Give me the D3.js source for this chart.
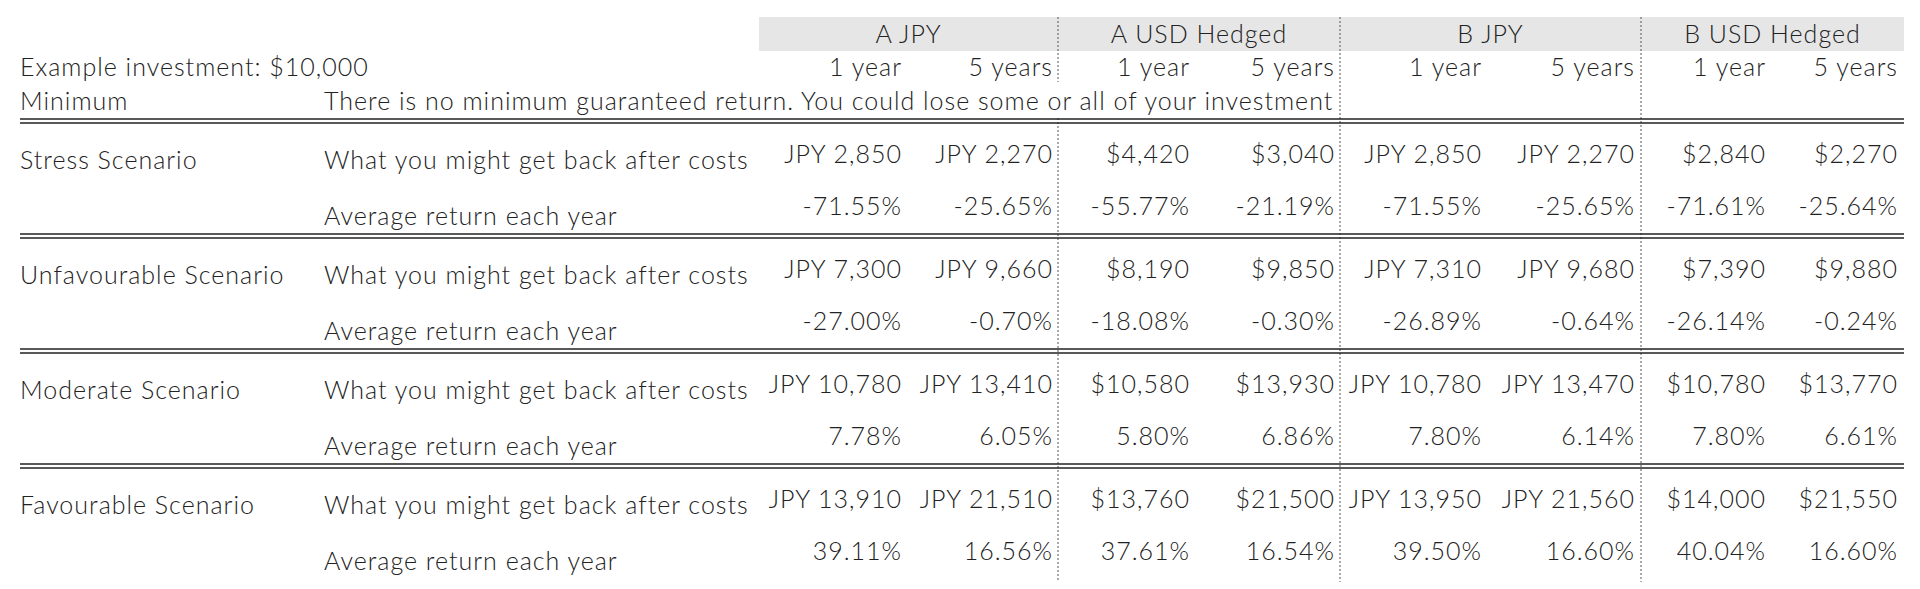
<!DOCTYPE html>
<html>
<head>
<meta charset="utf-8">
<script src="https://cdn.jsdelivr.net/npm/d3@7"></script>
<style>
  body { margin: 0; background: #fff; }
  text { font-family: Lato, "Open Sans", sans-serif; font-weight: 300; fill: #222; letter-spacing: 1px; }
</style>
</head>
<body>
<svg id="table"></svg>
<script>
const width = 1920;
const height = 589;

// Data
const groups = ["A JPY", "A USD Hedged", "B JPY", "B USD Hedged"];
const periods = ["1 year", "5 years"];
const scenarios = ["Stress Scenario", "Unfavourable Scenario", "Moderate Scenario", "Favourable Scenario"];
const getBack = [
  ["JPY 2,850", "JPY 2,270", "$4,420", "$3,040", "JPY 2,850", "JPY 2,270", "$2,840", "$2,270"],
  ["JPY 7,300", "JPY 9,660", "$8,190", "$9,850", "JPY 7,310", "JPY 9,680", "$7,390", "$9,880"],
  ["JPY 10,780", "JPY 13,410", "$10,580", "$13,930", "JPY 10,780", "JPY 13,470", "$10,780", "$13,770"],
  ["JPY 13,910", "JPY 21,510", "$13,760", "$21,500", "JPY 13,950", "JPY 21,560", "$14,000", "$21,550"]
];
const avgReturn = [
  ["-71.55%", "-25.65%", "-55.77%", "-21.19%", "-71.55%", "-25.65%", "-71.61%", "-25.64%"],
  ["-27.00%", "-0.70%", "-18.08%", "-0.30%", "-26.89%", "-0.64%", "-26.14%", "-0.24%"],
  ["7.78%", "6.05%", "5.80%", "6.86%", "7.80%", "6.14%", "7.80%", "6.61%"],
  ["39.11%", "16.56%", "37.61%", "16.54%", "39.50%", "16.60%", "40.04%", "16.60%"]
];
const rowLabels = ["What you might get back after costs", "Average return each year"];
const exampleLabel = "Example investment: $10,000";
const minimumLabel = "Minimum";
const minimumText = "There is no minimum guaranteed return. You could lose some or all of your investment";

const svg = d3.select("#table").attr("width", width).attr("height", height);

// Layout: group boundaries and column right edges
const groupEdges = [759, 1058, 1340, 1641, 1904];
const colRight = d3.scaleOrdinal()
  .domain(d3.range(8))
  .range([902, 1053, 1190, 1335, 1482, 1635, 1766, 1898]);
const blockTop = d3.scaleLinear().domain([0, 1]).range([121, 236]);
const leftX = 20, descX = 324, rightEdge = 1904;
const fs = 25;

// header band
svg.append("rect").attr("x", groupEdges[0]).attr("y", 17)
  .attr("width", groupEdges[4] - groupEdges[0]).attr("height", 34).attr("fill", "#e6e6e6");

svg.selectAll("text.group").data(groups).enter().append("text")
  .attr("class", "group")
  .attr("x", (d, i) => (groupEdges[i] + groupEdges[i + 1]) / 2)
  .attr("y", 43).attr("text-anchor", "middle").attr("font-size", fs).text(d => d);

svg.selectAll("text.period").data(d3.range(8)).enter().append("text")
  .attr("class", "period")
  .attr("x", d => colRight(d)).attr("y", 76).attr("text-anchor", "end")
  .attr("font-size", fs).text(d => periods[d % 2]);

svg.append("text").attr("x", leftX).attr("y", 76).attr("font-size", fs).text(exampleLabel);
svg.append("text").attr("x", leftX).attr("y", 110).attr("font-size", fs).text(minimumLabel);
svg.append("text").attr("x", descX).attr("y", 110).attr("font-size", fs).text(minimumText);

// dotted separators
const dotted = [
  [groupEdges[1], 17, 82], [groupEdges[1], 118, 582],
  [groupEdges[2], 17, 582], [groupEdges[3], 17, 582]
];
svg.selectAll("line.sep").data(dotted).enter().append("line")
  .attr("x1", d => d[0]).attr("x2", d => d[0]).attr("y1", d => d[1]).attr("y2", d => d[2])
  .attr("stroke", "#555").attr("stroke-width", 1).attr("stroke-dasharray", "2,2");

// scenario blocks
scenarios.forEach((s, i) => {
  const top = blockTop(i);
  [-2, 2].forEach(o => svg.append("line")
    .attr("x1", leftX).attr("x2", rightEdge)
    .attr("y1", top + o).attr("y2", top + o)
    .attr("stroke", "#222").attr("stroke-width", 1.6));
  const g = svg.append("g").attr("transform", `translate(0,${top})`);
  g.append("text").attr("x", leftX).attr("y", 48).attr("font-size", fs).text(s);
  g.append("text").attr("x", descX).attr("y", 48).attr("font-size", fs).text(rowLabels[0]);
  g.append("text").attr("x", descX).attr("y", 104).attr("font-size", fs).text(rowLabels[1]);
  g.selectAll("text.v").data(getBack[i]).enter().append("text")
    .attr("class", "v").attr("x", (d, j) => colRight(j)).attr("y", 42)
    .attr("text-anchor", "end").attr("font-size", fs).text(d => d);
  g.selectAll("text.r").data(avgReturn[i]).enter().append("text")
    .attr("class", "r").attr("x", (d, j) => colRight(j)).attr("y", 94)
    .attr("text-anchor", "end").attr("font-size", fs).text(d => d);
});
</script>
</body>
</html>
